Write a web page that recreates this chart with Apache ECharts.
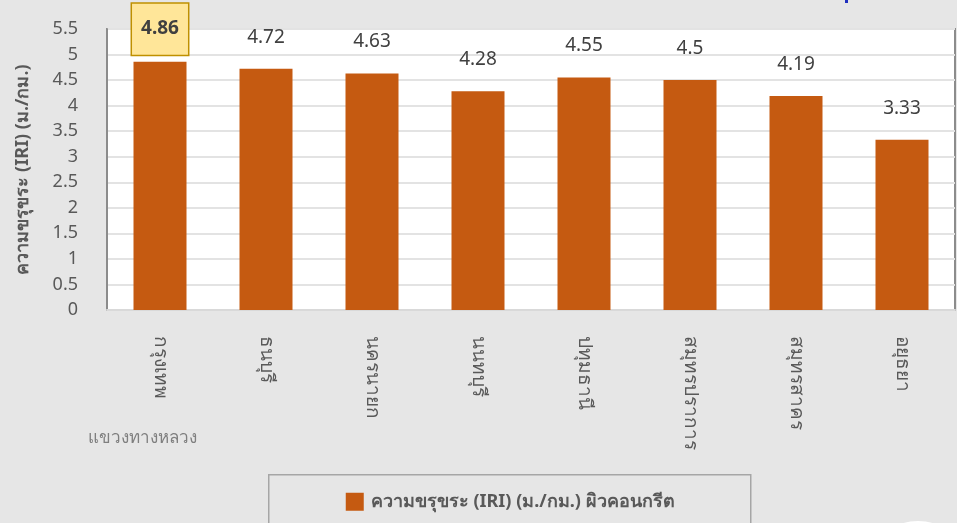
<!DOCTYPE html>
<html>
<head>
<meta charset="utf-8">
<script src="https://cdn.jsdelivr.net/npm/echarts@6/dist/echarts.min.js"></script>
<style>
  html, body { margin: 0; padding: 0; background: #e6e6e6; }
  #chart { width: 957px; height: 523px; }
</style>
</head>
<body>
<div id="chart"></div>
<script>
// Road roughness (IRI, m/km) of concrete pavement by highway district
const categories = ['กรุงเทพ', 'ธนบุรี', 'นครนายก', 'นนทบุรี', 'ปทุมธานี', 'สมุทรปราการ', 'สมุทรสาคร', 'อยุธยา'];
const iriValues = [4.86, 4.72, 4.63, 4.28, 4.55, 4.5, 4.19, 3.33];
const yTicks = { min: 0, max: 5.5, interval: 0.5 };
const seriesName = 'ความขรุขระ (IRI) (ม./กม.) ผิวคอนกรีต';
const yAxisTitle = 'ความขรุขระ (IRI) (ม./กม.)';
const districtCaption = 'แขวงทางหลวง';

const FONT = '"Noto Sans", "DejaVu Sans", sans-serif';
const TEXT_GREY = '#595959';

// The highest value gets a highlighted callout label
const maxIdx = iriValues.indexOf(Math.max(...iriValues));
const barData = iriValues.map((v, i) => {
  if (i !== maxIdx) return v;
  return {
    value: v,
    label: {
      distance: 7,
      fontWeight: 'bold',
      backgroundColor: '#ffe699',
      borderColor: '#bf9000',
      borderWidth: 1.5,
      padding: [15, 9, 17, 9]
    }
  };
});

const chart = echarts.init(document.getElementById('chart'), null, { renderer: 'canvas' });
chart.setOption({
  backgroundColor: '#e6e6e6',
  animation: false,
  textStyle: { fontFamily: FONT },
  grid: {
    left: 107, right: 2, top: 29, bottom: 213,
    show: true, backgroundColor: '#ffffff',
    borderColor: '#8c8c8c', borderWidth: 2
  },
  xAxis: {
    type: 'category',
    data: categories,
    axisLine: { lineStyle: { color: '#d9d9d9', width: 2 } },
    axisTick: { show: false },
    axisLabel: { rotate: -90, margin: 26, fontSize: 19, color: TEXT_GREY, fontFamily: FONT }
  },
  yAxis: {
    type: 'value',
    min: yTicks.min, max: yTicks.max, interval: yTicks.interval,
    name: yAxisTitle,
    nameLocation: 'middle',
    nameRotate: 90,
    nameGap: 75,
    nameTextStyle: { fontSize: 18, fontWeight: 'bold', color: TEXT_GREY, fontFamily: FONT },
    axisLine: { show: true, lineStyle: { color: '#8c8c8c', width: 2 } },
    axisTick: { show: false },
    axisLabel: { fontSize: 18, color: TEXT_GREY, margin: 29, fontFamily: FONT },
    splitLine: { lineStyle: { color: '#e3e3e3', width: 2 } }
  },
  legend: { show: false },
  series: [{
    name: seriesName,
    type: 'bar',
    data: barData,
    barWidth: '50%',
    itemStyle: { color: '#c55a11' },
    label: {
      show: true,
      position: 'top',
      distance: 22,
      fontSize: 19,
      color: '#404040',
      fontFamily: FONT
    }
  }],
  graphic: [
    {
      type: 'text', left: 88, top: 430,
      style: { text: districtCaption, fill: '#7f7f7f', font: '17px ' + FONT }
    },
    {
      type: 'group', left: 268, top: 474,
      children: [
        { type: 'rect', shape: { x: 0, y: 0, width: 482, height: 60 },
          style: { fill: '#e6e6e6', stroke: '#a6a6a6', lineWidth: 1.5 } },
        { type: 'rect', shape: { x: 77, y: 18, width: 18, height: 18 },
          style: { fill: '#c55a11' } },
        { type: 'text', x: 102, y: 27,
          style: { text: seriesName, font: 'bold 18px ' + FONT, fill: TEXT_GREY, textVerticalAlign: 'middle' } }
      ]
    },
    // small page decorations at the edges
    { type: 'rect', shape: { x: 845, y: 0, width: 3, height: 3 }, style: { fill: '#1f2fbf' } },
    { type: 'ellipse', shape: { cx: 918, cy: 535, rx: 28, ry: 14 }, style: { fill: '#ffffff' } }
  ]
});
</script>
</body>
</html>
